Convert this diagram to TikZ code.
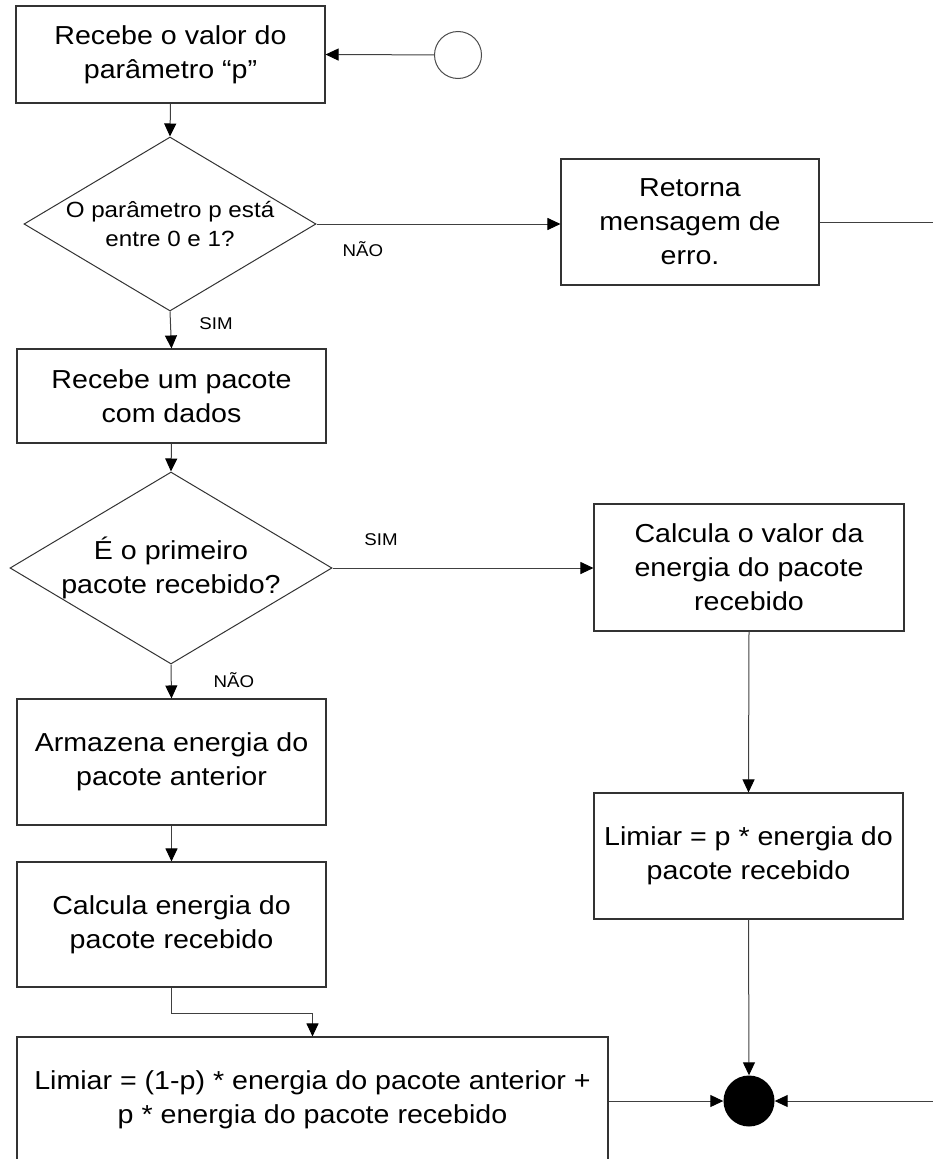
\documentclass[tikz,border=0pt]{standalone}
\usepackage{fontspec}
\setmainfont{Liberation Sans}[FakeStretch=1.1]
\usetikzlibrary{arrows.meta,shapes.geometric}

% type sizes for boxes, decisions and branch labels
\newcommand\boxsz{\fontsize{26}{34}\selectfont}
\newcommand\decsz{\fontsize{22}{29}\selectfont}
\newcommand\lblsz{\fontsize{17}{20}\selectfont}

\begin{document}
\begin{tikzpicture}[x=1pt,y=-1pt,
  proc/.style={draw=black!80, line width=1.1pt, fill=white, inner sep=0pt,
               align=center, font=\boxsz},
  dec/.style={diamond, draw=black!80, line width=1pt, fill=white, inner sep=0pt},
  decl/.style={font=\decsz, align=center, inner sep=0pt},
  lbl/.style={font=\lblsz, inner sep=0pt},
  startc/.style={circle, draw=black!70, line width=1pt, fill=white,
                 minimum size=47pt, inner sep=0pt},
  endc/.style={circle, fill=black, minimum size=51pt, inner sep=0pt},
  arr/.style={draw=black!75, line width=1pt,
              -{Triangle[length=13pt,width=12pt,color=black]}},
  ln/.style={draw=black!75, line width=1pt}]

\useasboundingbox (0,0) rectangle (933,1159);
\path[clip] (0,0) rectangle (933,1159);

% process boxes
\node[proc, minimum width=309pt, minimum height=97pt] (recv) at (170.5,54.5)
  {Recebe o valor do\\parâmetro “p”};
\node[proc, minimum width=258pt, minimum height=126pt] (err) at (690,222)
  {Retorna\\mensagem de\\erro.};
\node[proc, minimum width=309pt, minimum height=94pt] (pkt) at (171.5,396)
  {Recebe um pacote\\com dados};
\node[proc, minimum width=310pt, minimum height=127pt] (calcv) at (749,567.5)
  {Calcula o valor da\\energia do pacote\\recebido};
\node[proc, minimum width=309pt, minimum height=126pt] (store) at (171.5,762)
  {Armazena energia do\\pacote anterior};
\node[proc, minimum width=309pt, minimum height=125pt] (calce) at (171.5,924.5)
  {Calcula energia do\\pacote recebido};
\node[proc, minimum width=309pt, minimum height=126pt] (thr1) at (748.5,856)
  {Limiar = p * energia do\\pacote recebido};
\node[proc, minimum width=591pt, minimum height=126pt] (thr2) at (312.5,1100)
  {Limiar = (1-p) * energia do pacote anterior +\\p * energia do pacote recebido};

% decisions
\node[dec, minimum width=292pt, minimum height=174pt,
      label={[decl]center:O parâmetro p está\\entre 0 e 1?}] (chk) at (170,224) {};
\node[dec, minimum width=322pt, minimum height=192pt,
      label={[font=\boxsz, align=center, inner sep=0pt]center:É o primeiro\\pacote recebido?}] (first) at (171,568) {};

% start and end
\node[startc] (start) at (458,55) {};
\node[endc] (stop) at (749,1101) {};
\coordinate (errout) at (933,222);
\coordinate (loopin) at (933,1101);

% connectors
\draw[arr] (start) -- (recv.east);
\draw[arr] (recv.south) -- (chk.north);
\draw[arr] (chk.east) -- (chk.east -| err.west);
\draw[ln] (err.east) -- (errout);
\draw[arr] (chk.south) -- (pkt.north);
\draw[arr] (pkt.south) -- (first.north);
\draw[arr] (first.east) -- (first.east -| calcv.west);
\draw[arr] (first.south) -- (store.north);
\draw[arr] (store.south) -- (calce.north);
\draw[arr] (calcv.south) -- (thr1.north);
\draw[arr] (calce.south) -- ++(0,26) -| (thr2.north);
\draw[arr] (thr1.south) -- (stop.north);
\draw[arr] (thr2.east |- stop.west) -- (stop.west);
\draw[arr] (loopin) -- (stop.east);

% branch labels
\node[lbl] (noA) at (363,249) {NÃO};
\node[lbl] (yesA) at (216,324) {SIM};
\node[lbl] (yesB) at (381,540) {SIM};
\node[lbl] (noB) at (234,680) {NÃO};
\end{tikzpicture}
\end{document}
